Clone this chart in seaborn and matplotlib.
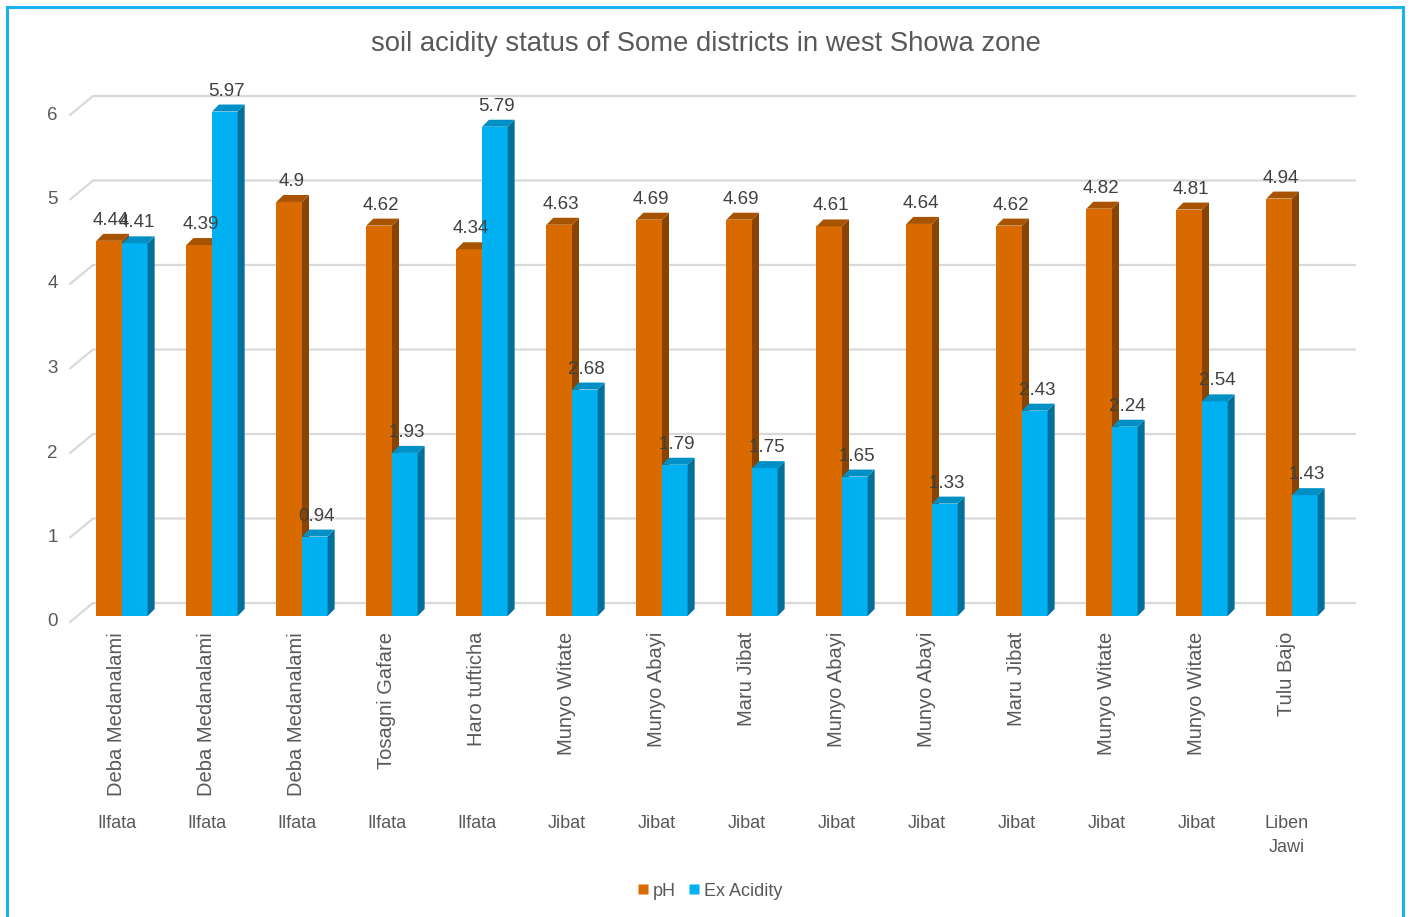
import pandas as pd
import matplotlib
matplotlib.use("Agg")
import matplotlib.pyplot as plt
from matplotlib.patches import Polygon, Rectangle
from matplotlib.lines import Line2D
import seaborn as sns

# chart data
sites = ["Deba Medanalami", "Deba Medanalami", "Deba Medanalami", "Tosagni Gafare",
         "Haro tufticha", "Munyo Witate", "Munyo Abayi", "Maru Jibat", "Munyo Abayi",
         "Munyo Abayi", "Maru Jibat", "Munyo Witate", "Munyo Witate", "Tulu Bajo"]
districts = ["Ilfata", "Ilfata", "Ilfata", "Ilfata", "Ilfata", "Jibat", "Jibat", "Jibat",
             "Jibat", "Jibat", "Jibat", "Jibat", "Jibat", "Liben\nJawi"]
ph = [4.44, 4.39, 4.9, 4.62, 4.34, 4.63, 4.69, 4.69, 4.61, 4.64, 4.62, 4.82, 4.81, 4.94]
ex_acidity = [4.41, 5.97, 0.94, 1.93, 5.79, 2.68, 1.79, 1.75, 1.65, 1.33, 2.43, 2.24, 2.54, 1.43]
y_ticks = [0, 1, 2, 3, 4, 5, 6]
series = ["pH", "Ex Acidity"]

title = "soil acidity status of Some districts in west Showa zone"

# colours: front, side, top
orange = ("#D86A00", "#8A4300", "#A85300")
blue = ("#00B0F0", "#006F99", "#0090C6")
grid_color = "#D9D9D9"
text_color = "#595959"
label_color = "#404040"

n = len(sites)
df = pd.DataFrame({
    "idx": list(range(n)) * 2,
    "value": ph + ex_acidity,
    "param": [series[0]] * n + [series[1]] * n,
})

sns.set_theme(style="white")
plt.rcParams["font.family"] = ["Liberation Sans", "DejaVu Sans"]

W, H = 1413, 917
fig = plt.figure(figsize=(W / 100, H / 100), dpi=100)
fig.patch.set_facecolor("white")
ax = fig.add_axes([77 / W, (H - 616) / H, 1260 / W, 507 / H])

sns.barplot(data=df, x="idx", y="value", hue="param", hue_order=series,
            palette={series[0]: orange[0], series[1]: blue[0]},
            width=0.57, saturation=1, linewidth=0, legend=False, ax=ax, zorder=3)

ax.set_xlim(-0.5, n - 0.5)
ax.set_ylim(0, 6)
ax.set_xticks([])
ax.set_yticks([])
ax.set_xlabel("")
ax.set_ylabel("")
for s in ax.spines.values():
    s.set_visible(False)
ax.patch.set_alpha(0)

# pixel -> data conversion
px_x = ax.bbox.width / n
px_y = ax.bbox.height / 6
ddx, ddy = 7 / px_x, 7 / px_y

# back-wall gridlines with slanted floor part on the left
for v in y_ticks:
    gx0 = -0.5 + 16 / px_x
    gy = v + 13 / px_y
    ax.plot([-0.5 - 7 / px_x, gx0, n - 0.5 + 18 / px_x],
            [v - 6 / px_y, gy, gy], color=grid_color, lw=1.6, zorder=0, clip_on=False)
    ax.text(-0.5 - 19 / px_x, v - 6 / px_y, str(v), ha="right", va="center",
            fontsize=13.5, color=text_color, clip_on=False)

# 3D faces and value labels
for k, (cont, cols, vals) in enumerate(zip(ax.containers, [orange, blue], [ph, ex_acidity])):
    z = 3 + k
    for bar, v in zip(cont, vals):
        x0 = bar.get_x()
        w = bar.get_width()
        h = bar.get_height()
        x1 = x0 + w
        bar.set_zorder(z)
        side = Polygon([(x1, 0), (x1 + ddx, ddy), (x1 + ddx, h + ddy), (x1, h)],
                       closed=True, facecolor=cols[1], edgecolor="none", zorder=z, clip_on=False)
        top = Polygon([(x0, h), (x1, h), (x1 + ddx, h + ddy), (x0 + ddx, h + ddy)],
                      closed=True, facecolor=cols[2], edgecolor="none", zorder=z, clip_on=False)
        ax.add_patch(side)
        ax.add_patch(top)
        ax.text(x0 + w / 2 + 2 / px_x, h + 12 / px_y, f"{v:g}", ha="center", va="bottom",
                fontsize=13.5, color=label_color, zorder=10, clip_on=False)

# category labels: site (rotated) and district
for i in range(n):
    ax.text(i - 5 / px_x, -16 / px_y, sites[i], rotation=90, ha="center", va="top",
            fontsize=14.5, color=text_color, clip_on=False)
    ax.text(i - 5 / px_x, -199 / px_y, districts[i], ha="center", va="top",
            fontsize=13, color=text_color, linespacing=1.5, multialignment="center",
            clip_on=False)

fig.text(706 / W, 1 - 44 / H, title, ha="center", va="center", fontsize=19.8,
         color=text_color)

handles = [Line2D([], [], marker="s", linestyle="none", markersize=6.5,
                  markerfacecolor=c[0], markeredgecolor="none") for c in (orange, blue)]
leg = fig.legend(handles, series, loc="center", bbox_to_anchor=(708 / W, 1 - 891 / H),
                 ncol=2, frameon=False, handletextpad=0.05,
                 columnspacing=0.5, handlelength=1.0, prop={"size": 13})
for t in leg.get_texts():
    t.set_color(text_color)

# outer blue frame
fig.patches.append(Rectangle((7 / W, -0.05), 1396 / W, 1 - 7 / H + 0.05,
                             transform=fig.transFigure, fill=False,
                             edgecolor="#1AB2EE", lw=2.2, zorder=10))

fig.savefig("out.png", dpi=100)
